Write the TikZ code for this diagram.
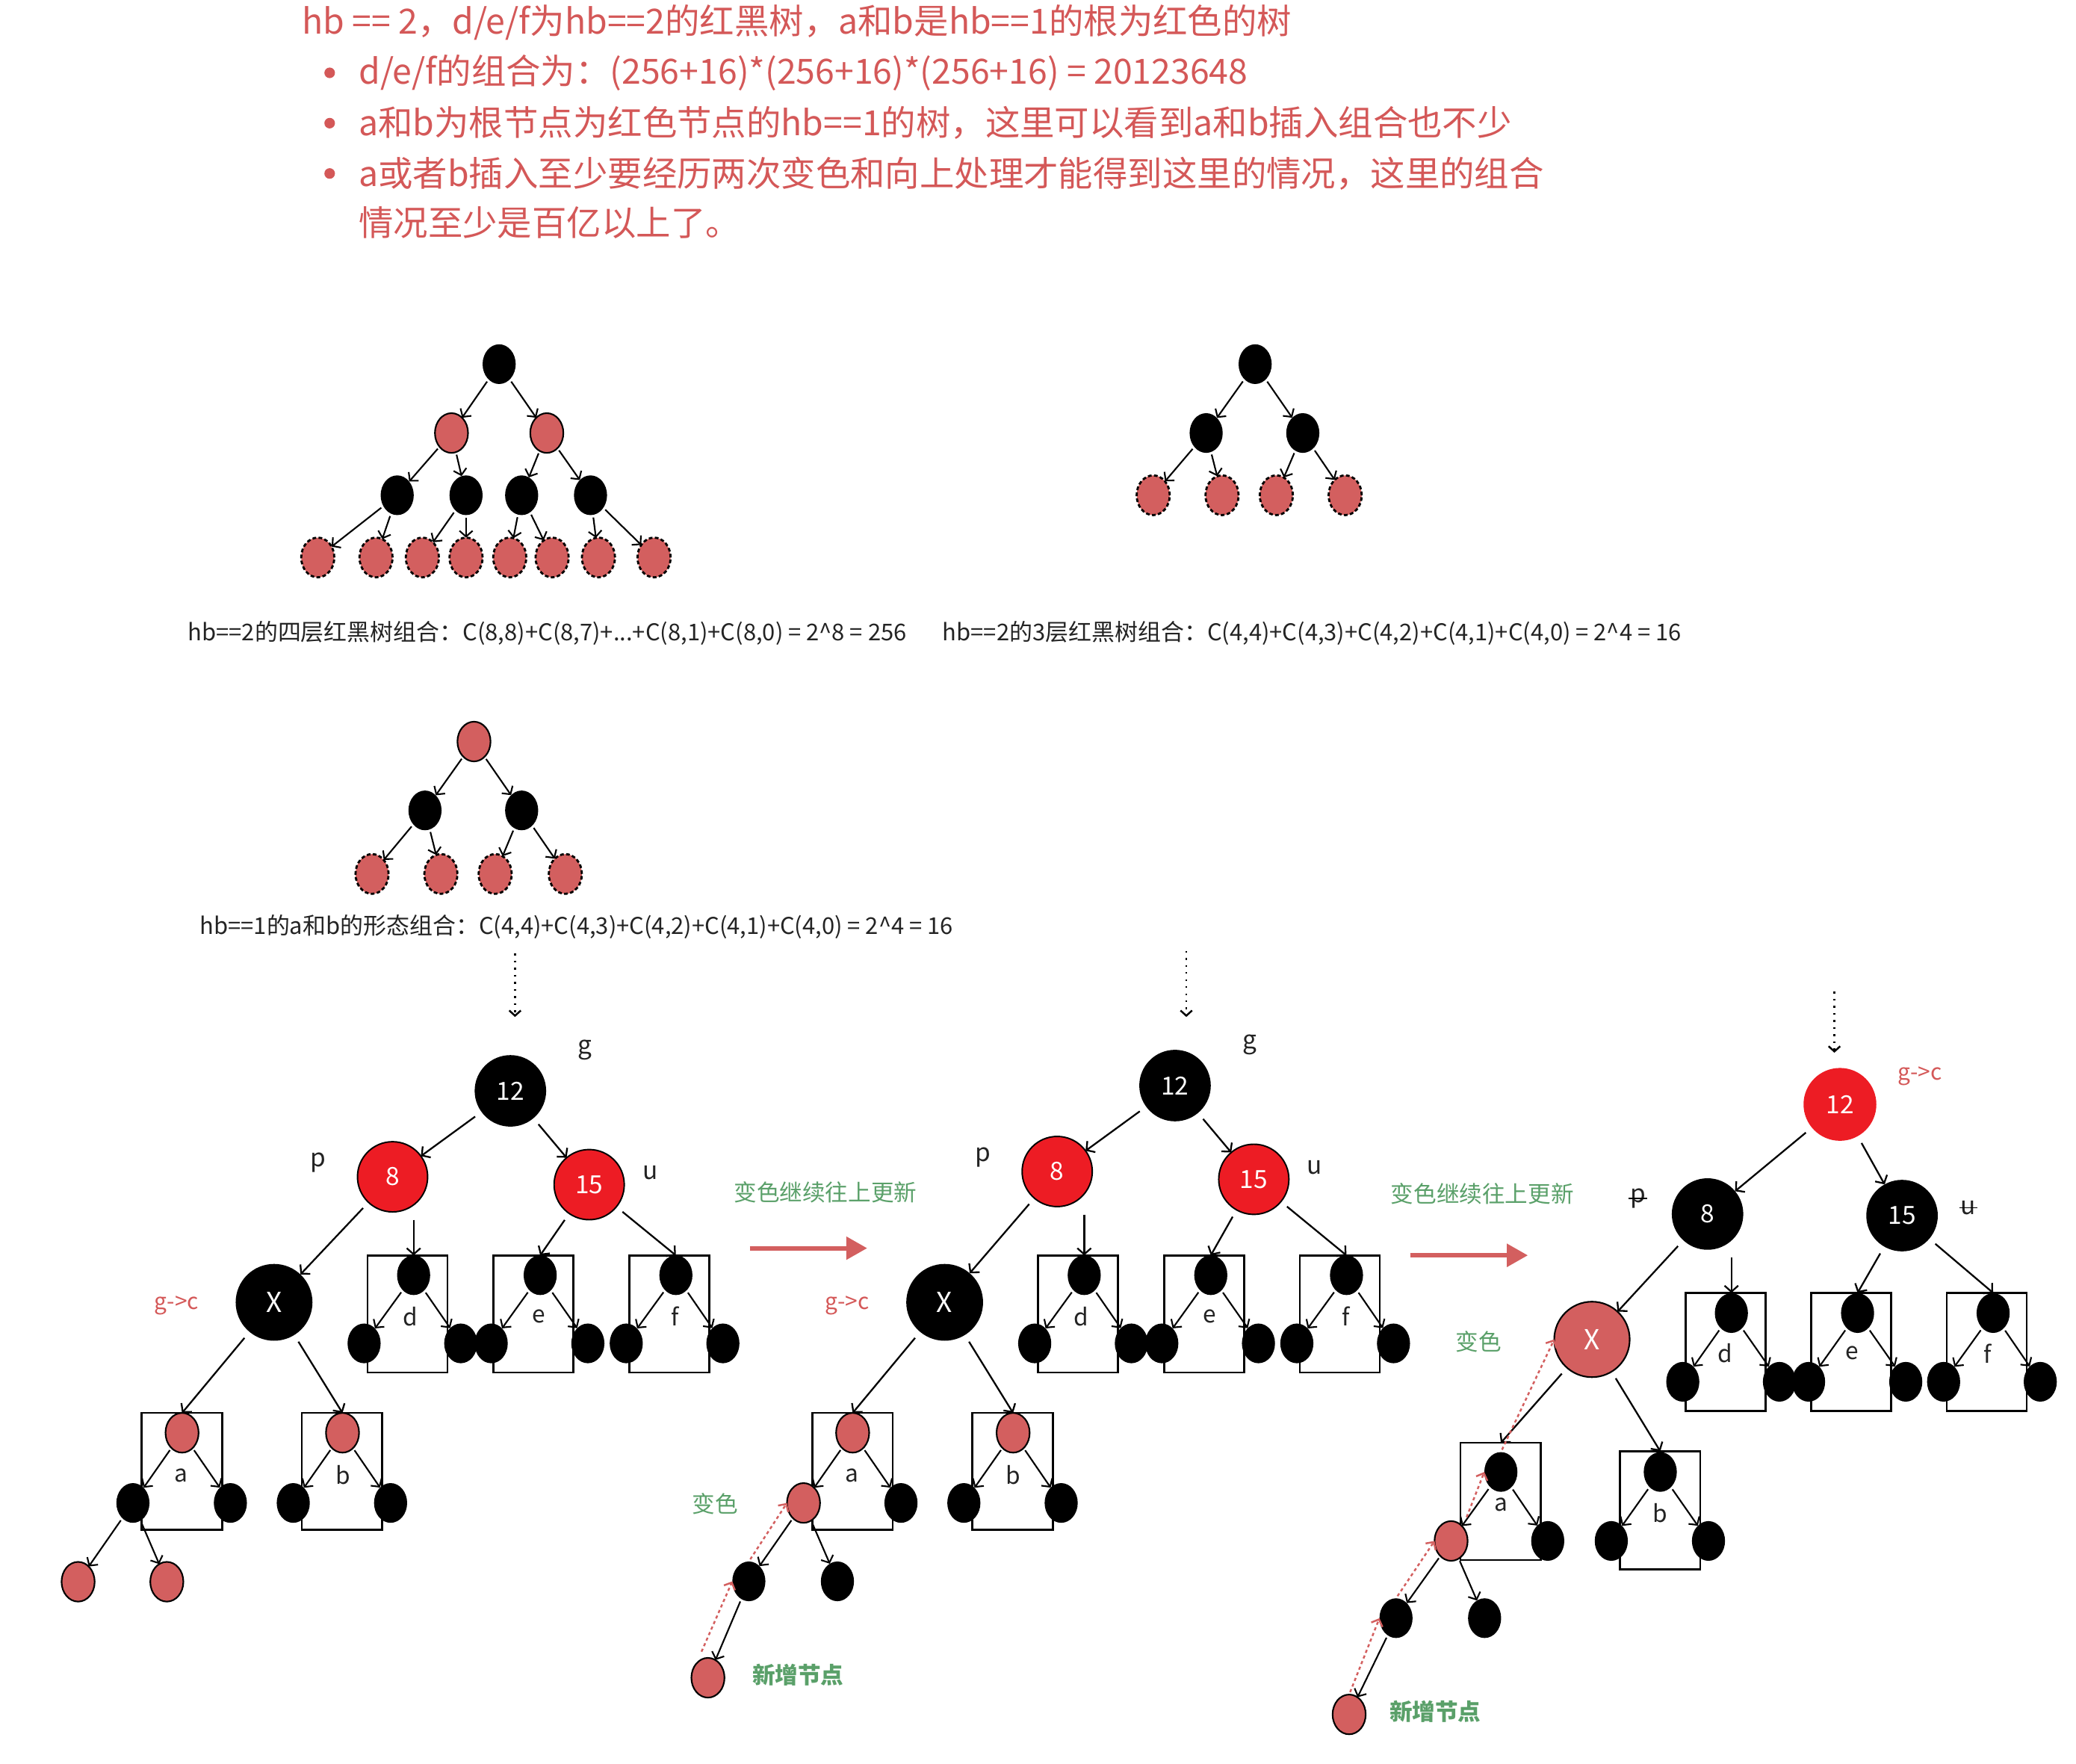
\documentclass[tikz,border=0pt]{standalone}
\usepackage{fontspec}
\setmainfont{Noto Sans CJK SC}
\usetikzlibrary{arrows.meta,shapes.geometric}
\newdimen\unitlen \unitlen=0.017723cm
\definecolor{lred}{RGB}{211,95,95}
\definecolor{bred}{RGB}{237,28,36}
\definecolor{txtred}{RGB}{212,88,88}
\definecolor{grn}{RGB}{90,160,105}
\definecolor{captxt}{RGB}{35,35,35}
\tikzset{
 every node/.style={inner sep=0pt, outer sep=0pt},
 sn/.style={ellipse, minimum width=25*\unitlen, minimum height=30*\unitlen},
 blk/.style={sn, fill=black},
 lr/.style={sn, fill=lred, draw=black, line width=0.6pt},
 dr/.style={sn, fill=lred, draw=black, line width=0.8pt, dash pattern=on 1.4pt off 0.9pt},
 bigblk/.style={circle, fill=black, minimum size=54*\unitlen, text=white, font=\fontsize{9.5}{9.5}\selectfont},
 bigrd/.style={circle, fill=bred, draw=black, line width=0.55pt, minimum size=53*\unitlen, text=white, font=\fontsize{9.5}{9.5}\selectfont},
 bigrdnb/.style={circle, fill=bred, minimum size=55*\unitlen, text=white, font=\fontsize{9.5}{9.5}\selectfont},
 xblk/.style={circle, fill=black, minimum size=58*\unitlen, text=white, font=\fontsize{10.5}{10.5}\selectfont},
 xlr/.style={circle, fill=lred, draw=black, line width=0.6pt, minimum size=57*\unitlen, text=white, font=\fontsize{10.5}{10.5}\selectfont},
 boxst/.style={rectangle, draw=black, line width=0.75pt},
 lbl/.style={text=captxt, font=\fontsize{9.5}{9.5}\selectfont},
 boxlbl/.style={text=captxt, font=\fontsize{9}{9}\selectfont},
 redlbl/.style={text=txtred, font=\fontsize{8.5}{8.5}\selectfont},
 grnlbl/.style={text=grn, font=\fontsize{8.7}{8.7}\selectfont},
 grnbold/.style={text=grn, font=\fontsize{8.7}{8.7}\selectfont\bfseries},
 toptxt/.style={anchor=west, text=txtred, font=\fontsize{13.2}{13.2}\selectfont},
 bul/.style={circle, fill=txtred, minimum size=8*\unitlen},
 captionst/.style={anchor=west, text=captxt, font=\fontsize{8.8}{8.8}\selectfont},
 edge/.style={-{Straight Barb[length=2.2pt,width=5pt]}, line width=0.6pt, shorten <=1pt},
 bedge/.style={-{Straight Barb[length=2.3pt,width=5.2pt]}, line width=0.65pt, shorten <=3pt},
 dotarr/.style={-{Straight Barb[length=2pt,width=4.4pt]}, line width=0.7pt, dotted},
 reddot/.style={-{Straight Barb[length=2.2pt,width=4.6pt]}, draw=lred, line width=0.7pt, dash pattern=on 1.2pt off 1.1pt},
 bigarrow/.style={-{Triangle[length=8pt,width=8.5pt]}, draw=lred, line width=1.7pt},
}
\newcommand\bigtree[4]{%
\begin{scope}[shift={#2}]
\node[bigblk] (#1root) at (385.5,823.8) {12};
\node[bigrd] (#1p) at (296.5,888.7) {8};
\node[bigrd] (#1u) at (445,894.6) {15};
\node[lbl] (#1gl) at (442,793) {g};
\node[lbl] (#1pl) at (240.5,878) {p};
\node[lbl] (#1ul) at (491,885.5) {u};
\end{scope}
\begin{scope}[shift={#3}]
\node[boxst, minimum width=60.4*\unitlen, minimum height=88.5*\unitlen] (#1dbox) at (307.8,992.3) {};
\node[boxst, minimum width=60.4*\unitlen, minimum height=88.5*\unitlen] (#1ebox) at (403,992.3) {};
\node[boxst, minimum width=60.4*\unitlen, minimum height=88.5*\unitlen] (#1fbox) at (505.5,992.3) {};
\node[boxst, minimum width=60.6*\unitlen, minimum height=88.3*\unitlen] (#1abox) at (137.4,1111.2) {};
\node[boxst, minimum width=60.6*\unitlen, minimum height=88.3*\unitlen] (#1bbox) at (258.3,1111.2) {};
\node[xblk] (#1X) at (207,983.5) {X};
\node[redlbl] (#1gc) at (133.4,985.7) {g->c};
\node[blk] (#1dt) at (312.4,963) {};
\node[blk] (#1dl) at (275,1014.5) {};
\node[blk] (#1dr) at (348,1014.5) {};
\node[boxlbl] (#1dlab) at (310,994) {d};
\node[blk] (#1et) at (408,963) {};
\node[blk] (#1el) at (371,1014.5) {};
\node[blk] (#1er) at (444,1014.5) {};
\node[boxlbl] (#1elab) at (407,994) {e};
\node[blk] (#1ft) at (510.5,963) {};
\node[blk] (#1fl) at (473,1014.5) {};
\node[blk] (#1fr) at (546,1014.5) {};
\node[boxlbl] (#1flab) at (510,994) {f};
\node[lr] (#1at) at (137.5,1082) {};
\node[#4] (#1al) at (100.4,1135) {};
\node[blk] (#1ar) at (174,1135) {};
\node[boxlbl] (#1alab) at (137,1114) {a};
\node[lr] (#1bt) at (258.7,1082) {};
\node[blk] (#1bl) at (221.5,1135) {};
\node[blk] (#1br) at (295,1135) {};
\node[boxlbl] (#1blab) at (259,1114) {b};
\end{scope}
\draw[bedge] (#1root) -- (#1p);
\draw[bedge] (#1root) -- (#1u);
\draw[bedge] (#1p) -- (#1X);
\draw[bedge] (#1dt |- #1p.south) -- (#1dbox.north -| #1dt);
\draw[bedge] (#1u) -- (#1ebox.north -| #1et);
\draw[bedge] (#1u) -- (#1fbox.north -| #1ft);
\draw[bedge] (#1X) -- (#1abox.north -| #1at);
\draw[bedge] (#1X) -- (#1bbox.north -| #1bt);
\draw[edge] (#1dt) -- (#1dl);
\draw[edge] (#1dt) -- (#1dr);
\draw[edge] (#1et) -- (#1el);
\draw[edge] (#1et) -- (#1er);
\draw[edge] (#1ft) -- (#1fl);
\draw[edge] (#1ft) -- (#1fr);
\draw[edge] (#1at) -- (#1al);
\draw[edge] (#1at) -- (#1ar);
\draw[edge] (#1bt) -- (#1bl);
\draw[edge] (#1bt) -- (#1br);
}
\begin{document}
\begin{tikzpicture}[x=0.017723cm, y=-0.017723cm]
\useasboundingbox (0,0) rectangle (1568,1332);
% ---------- heading text ----------
\node[toptxt] (h0) at (228,17) {hb == 2，d/e/f为hb==2的红黑树，a和b是hb==1的根为红色的树};
\node[bul] (b1) at (249,55) {};
\node[bul] (b2) at (249,93) {};
\node[bul] (b3) at (249,131) {};
\node[toptxt] (h1) at (271,55) {d/e/f的组合为：(256+16)*(256+16)*(256+16) = 20123648};
\node[toptxt] (h2) at (271,93) {a和b为根节点为红色节点的hb==1的树，这里可以看到a和b插入组合也不少};
\node[toptxt] (h3) at (271,131) {a或者b插入至少要经历两次变色和向上处理才能得到这里的情况，这里的组合};
\node[toptxt] (h4) at (271,168) {情况至少是百亿以上了。};
% ---------- tree 1 ----------
\node[blk] (t1r) at (377,275) {};
\node[lr] (t1a) at (341,327) {};
\node[lr] (t1b) at (413,327) {};
\node[blk] (t1c1) at (300,374) {};
\node[blk] (t1c2) at (352,374) {};
\node[blk] (t1c3) at (394,374) {};
\node[blk] (t1c4) at (446,374) {};
\foreach \i/\x in {1/240,2/284,3/319,4/352,5/385,6/417,7/452,8/494}
  \node[dr] (t1l\i) at (\x,421) {};
\draw[edge] (t1r) -- (t1a); \draw[edge] (t1r) -- (t1b);
\draw[edge] (t1a) -- (t1c1); \draw[edge] (t1a) -- (t1c2);
\draw[edge] (t1b) -- (t1c3); \draw[edge] (t1b) -- (t1c4);
\draw[edge] (t1c1) -- (t1l1); \draw[edge] (t1c1) -- (t1l2);
\draw[edge] (t1c2) -- (t1l3); \draw[edge] (t1c2) -- (t1l4);
\draw[edge] (t1c3) -- (t1l5); \draw[edge] (t1c3) -- (t1l6);
\draw[edge] (t1c4) -- (t1l7); \draw[edge] (t1c4) -- (t1l8);
% ---------- tree 2 ----------
\node[blk] (t2r) at (948,275) {};
\node[blk] (t2a) at (911,327) {};
\node[blk] (t2b) at (984,327) {};
\node[dr] (t2c1) at (871,374) {};
\node[dr] (t2c2) at (923,374) {};
\node[dr] (t2c3) at (964,374) {};
\node[dr] (t2c4) at (1016,374) {};
\draw[edge] (t2r) -- (t2a); \draw[edge] (t2r) -- (t2b);
\draw[edge] (t2a) -- (t2c1); \draw[edge] (t2a) -- (t2c2);
\draw[edge] (t2b) -- (t2c3); \draw[edge] (t2b) -- (t2c4);
% captions
\node[captionst] (cap1) at (142,478) {hb==2的四层红黑树组合：C(8,8)+C(8,7)+...+C(8,1)+C(8,0) = 2\textasciicircum8 = 256};
\node[captionst] (cap2) at (712,478) {hb==2的3层红黑树组合：C(4,4)+C(4,3)+C(4,2)+C(4,1)+C(4,0) = 2\textasciicircum4 = 16};
% ---------- tree 3 ----------
\node[lr] (t3r) at (358,560) {};
\node[blk] (t3a) at (321,612) {};
\node[blk] (t3b) at (394,612) {};
\node[dr] (t3c1) at (281,660) {};
\node[dr] (t3c2) at (333,660) {};
\node[dr] (t3c3) at (374,660) {};
\node[dr] (t3c4) at (427,660) {};
\draw[edge] (t3r) -- (t3a); \draw[edge] (t3r) -- (t3b);
\draw[edge] (t3a) -- (t3c1); \draw[edge] (t3a) -- (t3c2);
\draw[edge] (t3b) -- (t3c3); \draw[edge] (t3b) -- (t3c4);
\node[captionst] (cap3) at (151,700) {hb==1的a和b的形态组合：C(4,4)+C(4,3)+C(4,2)+C(4,1)+C(4,0) = 2\textasciicircum4 = 16};
% dotted down arrows
\coordinate (d4s) at (389,720); \coordinate (d4e) at (389,768);
\coordinate (d5s) at (896,718); \coordinate (d5e) at (896,768);
\coordinate (d6s) at (1385.5,749); \coordinate (d6e) at (1385.5,795);
\draw[dotarr] (d4s) -- (d4e);
\draw[dotarr] (d5s) -- (d5e);
\draw[dotarr] (d6s) -- (d6e);
% ---------- tree 4 ----------
\bigtree{t4}{(0,0)}{(0,0)}{blk}
\node[lr] (t4c1) at (59,1194.5) {};
\node[lr] (t4c2) at (126,1194.5) {};
\draw[edge] (t4al) -- (t4c1);
\draw[edge] (t4al) -- (t4c2);
% arrow 4 -> 5
\node[grnlbl] (t5txt) at (623.4,900.5) {变色继续往上更新};
\coordinate (a45s) at (566.4,942.6); \coordinate (a45e) at (655,942.6);
\draw[bigarrow] (a45s) -- (a45e);
% ---------- tree 5 ----------
\bigtree{t5}{(502,-4)}{(506.5,0)}{lr}
\node[blk] (t5c1) at (565.6,1194.2) {};
\node[blk] (t5c2) at (632.5,1194.2) {};
\node[lr] (t5new) at (534.7,1267) {};
\draw[edge] (t5al) -- (t5c1);
\draw[edge] (t5al) -- (t5c2);
\draw[edge] (t5c1) -- (t5new);
\draw[reddot, shorten <=5pt] (t5new.north west) -- (t5c1.west);
\draw[reddot, shorten <=1pt] (t5c1.north) -- (t5al.west);
\node[grnlbl] (t5bs) at (540,1135.6) {变色};
\node[grnbold] (t5xz) at (602.8,1264.7) {新增节点};
% arrow 5 -> 6
\node[grnlbl] (t6txt) at (1119.6,901.5) {变色继续往上更新};
\coordinate (a56s) at (1065,948); \coordinate (a56e) at (1154,948);
\draw[bigarrow] (a56s) -- (a56e);
% ---------- tree 6 ----------
\node[boxst, minimum width=60.4*\unitlen, minimum height=89.3*\unitlen] (t6dbox) at (1303.2,1021) {};
\node[boxst, minimum width=60.4*\unitlen, minimum height=89.3*\unitlen] (t6ebox) at (1398.3,1021) {};
\node[boxst, minimum width=60.4*\unitlen, minimum height=89.3*\unitlen] (t6fbox) at (1500.5,1021) {};
\node[boxst, minimum width=60.6*\unitlen, minimum height=88.4*\unitlen] (t6abox) at (1133.3,1133.8) {};
\node[boxst, minimum width=60.6*\unitlen, minimum height=89*\unitlen] (t6bbox) at (1253.8,1140.5) {};
\node[bigrdnb] (t6root) at (1389.7,834) {12};
\node[redlbl] (t6gc) at (1450,812.5) {g->c};
\node[bigblk] (t6p) at (1289.7,916.8) {8};
\node[bigblk] (t6u) at (1436.6,918) {15};
\node[lbl] (t6pl) at (1237,905) {p};
\node[lbl] (t6ul) at (1486.6,912) {u};
\draw[line width=0.5pt] ([xshift=-0.6pt]t6pl.west) -- ([xshift=0.6pt]t6pl.east);
\draw[line width=0.5pt] ([xshift=-0.6pt]t6ul.west) -- ([xshift=0.6pt]t6ul.east);
\node[xlr] (t6X) at (1202.4,1011.5) {X};
\node[grnlbl] (t6bs) at (1116.8,1013) {变色};
\node[blk] (t6dt) at (1307.7,991.6) {};
\node[blk] (t6dl) at (1271,1043.5) {};
\node[blk] (t6dr) at (1344,1043.5) {};
\node[boxlbl] (t6dlab) at (1303,1022) {d};
\node[blk] (t6et) at (1403,991.6) {};
\node[blk] (t6el) at (1366,1043.5) {};
\node[blk] (t6er) at (1439.4,1043.5) {};
\node[boxlbl] (t6elab) at (1398.6,1022) {e};
\node[blk] (t6ft) at (1505.4,991.6) {};
\node[blk] (t6fl) at (1468,1043.5) {};
\node[blk] (t6fr) at (1541,1043.5) {};
\node[boxlbl] (t6flab) at (1501,1022) {f};
\node[blk] (t6at) at (1133.6,1111.6) {};
\node[lr] (t6al) at (1096,1163.7) {};
\node[blk] (t6ar) at (1169,1163.7) {};
\node[boxlbl] (t6alab) at (1133.8,1136.3) {a};
\node[blk] (t6bt) at (1254,1111.6) {};
\node[blk] (t6bl) at (1217,1163.7) {};
\node[blk] (t6br) at (1290.4,1163.7) {};
\node[boxlbl] (t6blab) at (1254,1142.6) {b};
\node[blk] (t6c1) at (1054.4,1222) {};
\node[blk] (t6c2) at (1121.3,1222) {};
\node[lr] (t6new) at (1019,1294.7) {};
\node[grnbold] (t6xz) at (1084,1292.7) {新增节点};
\draw[bedge] (t6root) -- (t6p);
\draw[bedge] (t6root) -- (t6u);
\draw[bedge] (t6p) -- (t6X);
\draw[bedge] (t6dt |- t6p.south) -- (t6dbox.north -| t6dt);
\draw[bedge] (t6u) -- (t6ebox.north -| t6et);
\draw[bedge] (t6u) -- (t6fbox.north -| t6ft);
\draw[bedge] (t6X) -- (t6abox.north -| t6at);
\draw[bedge] (t6X) -- (t6bbox.north -| t6bt);
\draw[edge] (t6dt) -- (t6dl); \draw[edge] (t6dt) -- (t6dr);
\draw[edge] (t6et) -- (t6el); \draw[edge] (t6et) -- (t6er);
\draw[edge] (t6ft) -- (t6fl); \draw[edge] (t6ft) -- (t6fr);
\draw[edge] (t6at) -- (t6al); \draw[edge] (t6at) -- (t6ar);
\draw[edge] (t6bt) -- (t6bl); \draw[edge] (t6bt) -- (t6br);
\draw[edge] (t6al) -- (t6c1); \draw[edge] (t6al) -- (t6c2);
\draw[edge] (t6c1) -- (t6new);
\draw[reddot, shorten <=1pt] (t6new.north) -- (t6c1.west);
\draw[reddot, shorten <=1pt] (t6c1.north) -- (t6al.west);
\draw[reddot, shorten <=4pt] (t6al.north east) -- (t6at.west);
\draw[reddot, shorten <=1pt] (t6at.north) -- (t6X.west);
\end{tikzpicture}
\end{document}
